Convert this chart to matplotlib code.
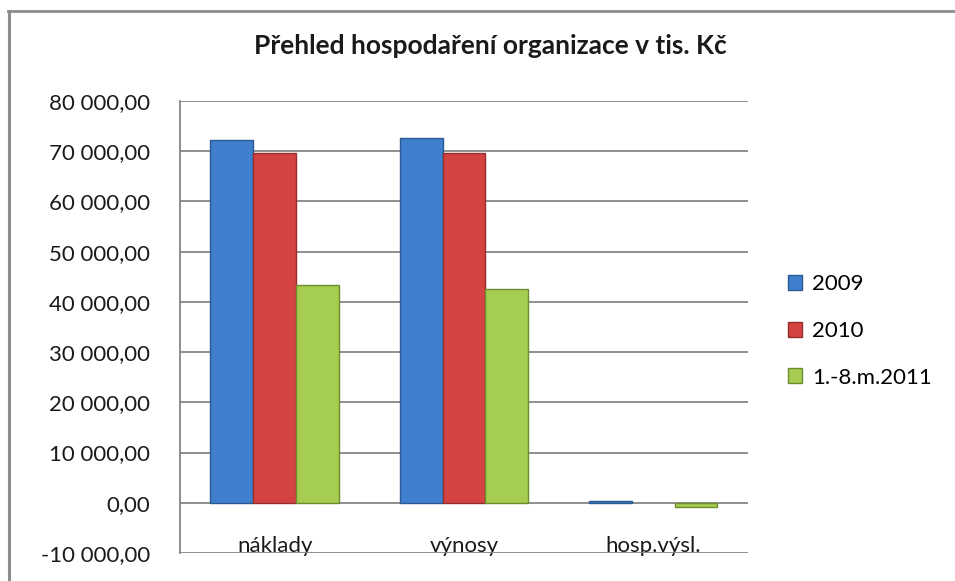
import matplotlib
matplotlib.use('Agg')
import matplotlib.pyplot as plt
from matplotlib.lines import Line2D
import numpy as np

plt.rcParams['font.family'] = ['Lato', 'DejaVu Sans']

categories = ['náklady', 'výnosy', 'hosp.výsl.']
series_names = ['2009', '2010', '1.-8.m.2011']
v2009 = [72200, 72600, 400]
v2010 = [69600, 69600, 0]
v2011 = [43400, 42600, -800]
yticks = list(range(-10000, 80001, 10000))

colors = ['#3F7FCD', '#D44341', '#A5CD4F']
edges = ['#2A5A92', '#952D2C', '#6F8C32']

fig = plt.figure(figsize=(9.55, 5.81), dpi=100)
# outer chart frame: only left and top edge are visible in the crop
fig.lines.append(Line2D([0.0094, 0.0094], [-0.05, 0.9810], transform=fig.transFigure,
                        color='#8C8C8C', linewidth=2.2))
fig.lines.append(Line2D([0.0080, 1.05], [0.9810, 0.9810], transform=fig.transFigure,
                        color='#8C8C8C', linewidth=2.0))

ax = fig.add_axes([0.1885, 0.0482, 0.5947, 0.778])

x = np.arange(len(categories))
w = 0.226
for i, vals in enumerate([v2009, v2010, v2011]):
    bars = ax.bar(x + (i - 1) * w, vals, width=w, color=colors[i], edgecolor=edges[i],
                  linewidth=1.0, label=series_names[i], zorder=3)
    for b, v in zip(bars, vals):
        if v == 0:
            b.set_visible(False)

ax.set_xlim(-0.5, 2.5)
ax.set_ylim(-10000, 80000)
ax.set_yticks(yticks)
ax.set_yticklabels([f"{v:,.2f}".replace(",", " ").replace(".", ",") for v in yticks])
ax.grid(axis='y', color='#868686', linewidth=1.3, zorder=0)
ax.set_axisbelow(True)
for s in ['top', 'right', 'bottom']:
    ax.spines[s].set_visible(False)
ax.spines['left'].set_color('#868686')
ax.spines['left'].set_linewidth(1.3)

ax.set_xticks(x)
ax.set_xticklabels(categories, fontsize=16, color='#1a1a1a')
for t in ax.get_xticklabels():
    t.set_va('baseline')
ax.tick_params(axis='x', length=0, pad=-1)
ax.tick_params(axis='y', length=0, pad=21.5, labelsize=16, labelcolor='#1a1a1a')

fig.text(0.513, 0.921, 'Přehled hospodaření organizace v tis. Kč', ha='center', va='center',
         fontsize=19, fontweight='bold', color='#1a1a1a')

ax.legend(loc='center left', bbox_to_anchor=(1.07, 0.491), frameon=False, fontsize=16,
          borderpad=0, borderaxespad=0, handlelength=0.65, handleheight=0.65,
          handletextpad=0.45, labelspacing=1.2)

fig.savefig('out.png', dpi=100)
